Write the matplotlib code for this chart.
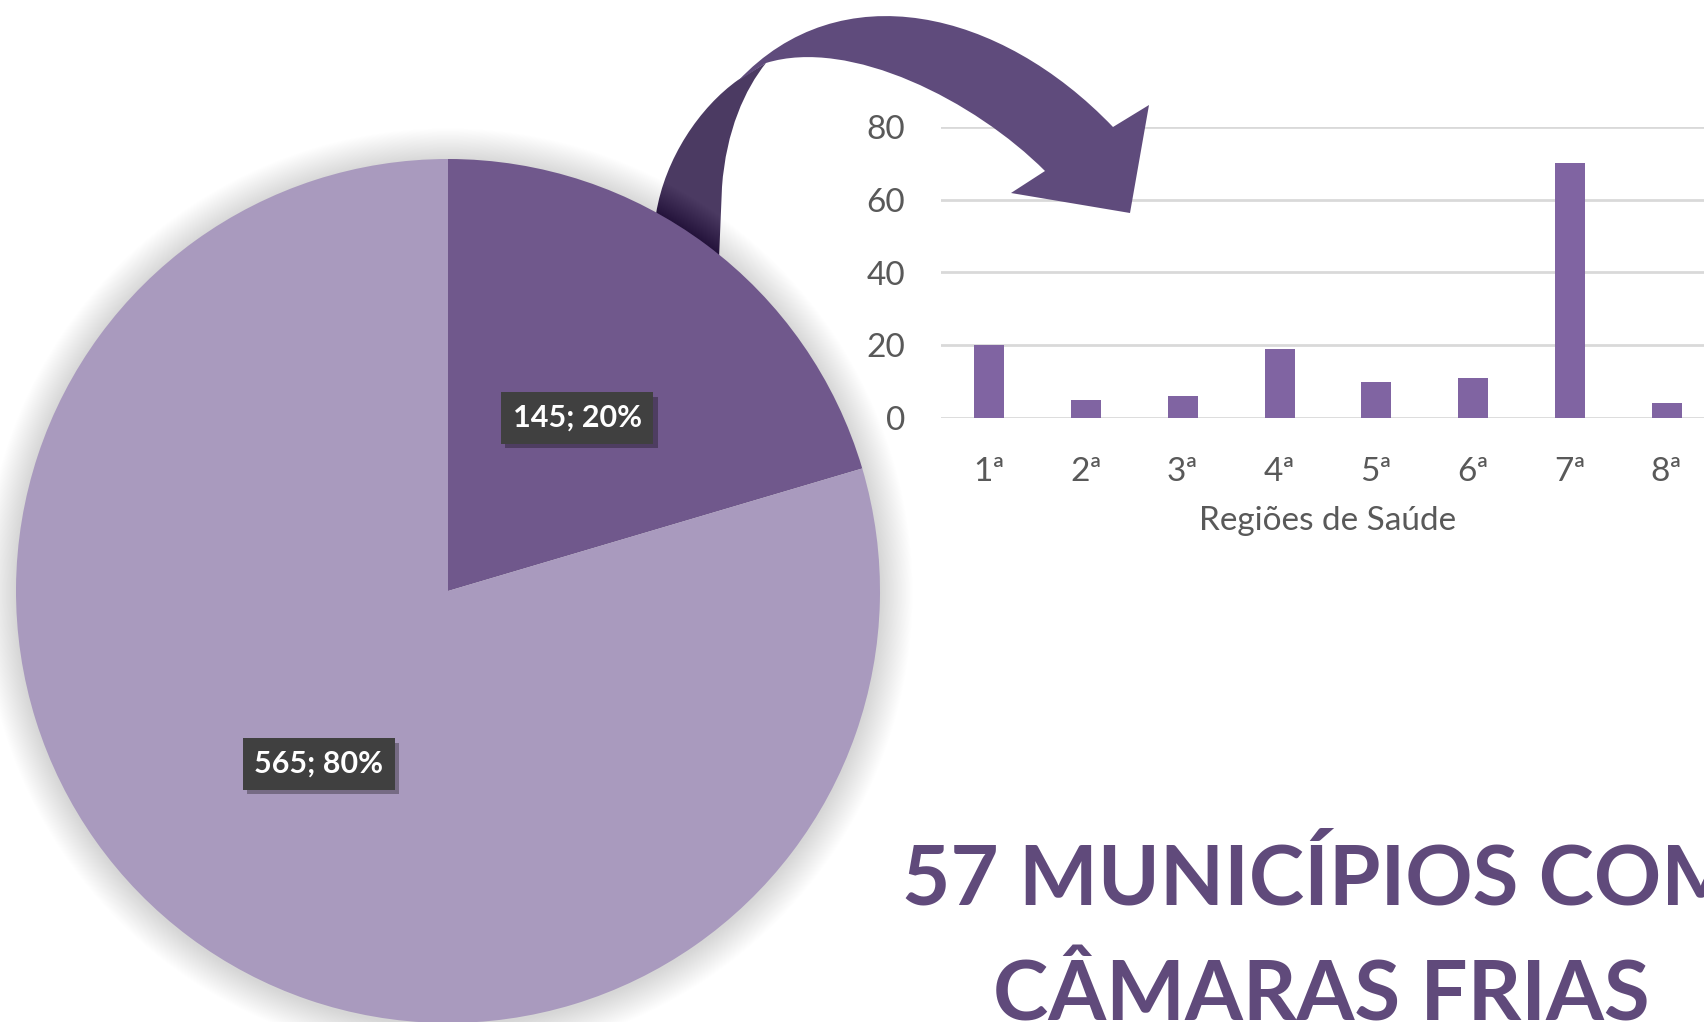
import matplotlib
matplotlib.use('Agg')
import matplotlib.pyplot as plt
from matplotlib.path import Path
from matplotlib.patches import PathPatch, Circle
import matplotlib.patheffects as pe

W, H = 1704, 1022

# pie: municipalities with / without cold rooms
pie_values = [145, 565]
pie_colors = ['#70588C', '#A99ABE']

# bars: municipalities per health region
regions = ['1ª', '2ª', '3ª', '4ª', '5ª', '6ª', '7ª', '8ª']
counts = [20, 5, 6, 19, 10, 11, 70, 4]
y_ticks = [0, 20, 40, 60, 80]
x_title = 'Regiões de Saúde'

title_lines = ['57 MUNICÍPIOS COM', 'CÂMARAS FRIAS']

plt.rcParams['font.family'] = ['Lato', 'DejaVu Sans']
TXT = '#595959'
ARROW = '#5F4B7C'
ARROW_BACK = '#4B3A62'


def fy(pts):
    # image coords (y down) -> pixel coords (y up)
    return [(x, H - y) for x, y in pts]


def pix_axes(z):
    a = fig.add_axes([0, 0, 1, 1], zorder=z)
    a.set_xlim(0, W)
    a.set_ylim(0, H)
    a.axis('off')
    a.patch.set_alpha(0)
    return a


fig = plt.figure(figsize=(W / 100, H / 100), dpi=100)
fig.patch.set_facecolor('white')

# back part of the curved arrow (behind the pie)
under = pix_axes(0)
back_pts = fy([(648, 330), (656, 214), (665, 158), (700, 107), (738, 80),
               (766, 63), (745, 89), (726, 131), (722, 187), (716, 330), (648, 330)])
back_codes = [Path.MOVETO, Path.LINETO, Path.CURVE4, Path.CURVE4, Path.CURVE4,
              Path.LINETO, Path.CURVE4, Path.CURVE4, Path.CURVE4, Path.LINETO, Path.CLOSEPOLY]
under.add_patch(PathPatch(Path(back_pts, back_codes), fc=ARROW_BACK, ec='none'))

# pie with soft shadow
pax = pix_axes(1)
cx, cy, R = 448, H - 591, 432
for k in range(1, 42):
    pax.add_patch(Circle((cx, cy - 2), R + k * 0.8, fc='black', ec='none', alpha=0.0032))
total = sum(pie_values)
wedges, _, autotexts = pax.pie(
    pie_values, colors=pie_colors, startangle=90, counterclock=False,
    center=(cx, cy), radius=R, frame=True, pctdistance=0.5,
    autopct=lambda p: '%d; %d%%' % (round(p * total / 100), round(p)),
    wedgeprops=dict(linewidth=0))
for t in autotexts:
    t.set_color('white')
    t.set_fontsize(22)
    t.set_fontweight('bold')
    t.set_bbox(dict(boxstyle='square,pad=0.38', fc='#404040', ec='none'))
    t.get_bbox_patch().set_path_effects([
        pe.withSimplePatchShadow(offset=(3, -3), shadow_rgbFace='black', alpha=0.3)])
pax.set_xlim(0, W)
pax.set_ylim(0, H)
pax.axis('off')

# bar chart (runs past the right edge like the original)
bx0, bx1 = 941, 1715
by0, by1 = 418, 127
bax = fig.add_axes([bx0 / W, (H - by0) / H, (bx1 - bx0) / W, (by0 - by1) / H], zorder=2)
bax.patch.set_alpha(0)
xs = list(range(len(regions)))
bax.bar(xs, counts, width=0.31, color='#8064A2', zorder=3)
bax.set_xlim(-0.5, len(regions) - 0.5)
bax.set_ylim(0, 80)
bax.set_yticks(y_ticks)
bax.set_xticks(xs)
bax.set_xticklabels(regions)
bax.yaxis.grid(True, color='#D9D9D9', linewidth=2, zorder=0)
bax.set_axisbelow(True)
for s in bax.spines.values():
    s.set_visible(False)
bax.tick_params(length=0, labelsize=24, colors=TXT)
bax.tick_params(axis='y', pad=26)
bax.tick_params(axis='x', pad=28)
bax.set_xlabel(x_title, fontsize=24, color=TXT, labelpad=14)

# front part of the curved arrow, over the grid
over = pix_axes(3)
front_pts = fy([(738, 81), (840, -28), (1000, 9), (1113, 127), (1149, 105),
                (1130, 213), (1011, 193), (1045, 171), (975, 101), (850, 37),
                (766, 63), (738, 81)])
front_codes = [Path.MOVETO, Path.CURVE4, Path.CURVE4, Path.CURVE4, Path.LINETO,
               Path.LINETO, Path.LINETO, Path.LINETO, Path.CURVE4, Path.CURVE4,
               Path.CURVE4, Path.CLOSEPOLY]
over.add_patch(PathPatch(Path(front_pts, front_codes), fc=ARROW, ec='none'))

# big title at the bottom right
fig.text(1321 / W, (H - 904) / H, title_lines[0], ha='center', va='baseline',
         fontsize=60, fontweight='bold', color='#604A7B')
fig.text(1321 / W, (H - 1020) / H, title_lines[1], ha='center', va='baseline',
         fontsize=60, fontweight='bold', color='#604A7B')

fig.savefig('out.png', dpi=100, facecolor='white')
